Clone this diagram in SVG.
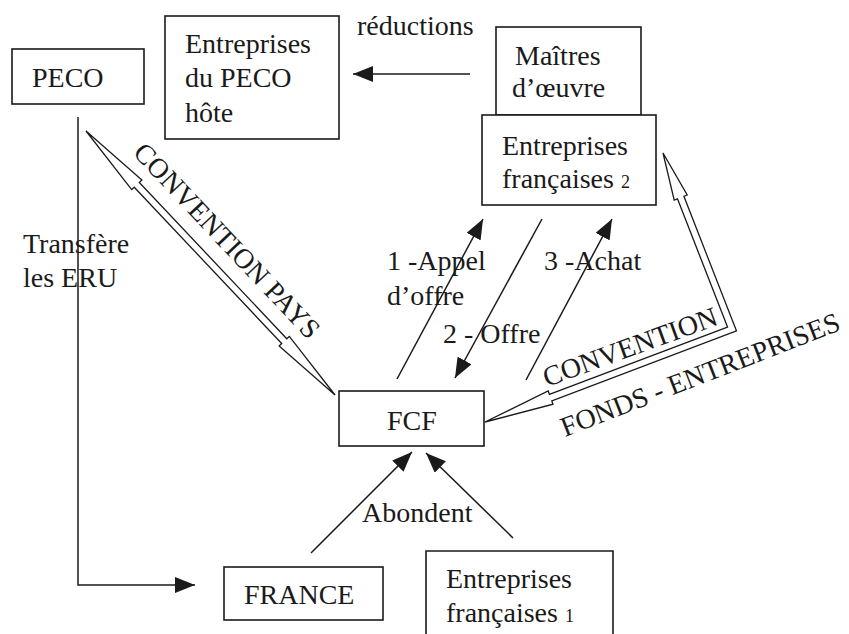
<svg xmlns="http://www.w3.org/2000/svg" width="849" height="634" viewBox="0 0 849 634" font-family="'Liberation Serif', 'DejaVu Serif', serif">
<style>
text{font-family:'Liberation Serif','DejaVu Serif',serif;font-size:28px;fill:#1a1a1a}
.box{fill:#fff;stroke:#1a1a1a;stroke-width:1.6}
.ln{fill:none;stroke:#1a1a1a;stroke-width:1.5}
.ah{marker-end:url(#arr)}
.hollow{fill:#fff;stroke:#1a1a1a;stroke-width:1.3;stroke-linejoin:miter}
.sm{font-size:18px}
</style>
<defs>
<marker id="arr" markerUnits="userSpaceOnUse" viewBox="0 0 20 16" refX="20" refY="8" markerWidth="20" markerHeight="16" orient="auto">
<path d="M0,0 L20,8 L0,16 z" fill="#1a1a1a"/>
</marker>
</defs>
<rect width="849" height="634" fill="#fff"/>

<g id="connectors">
<line class="ln ah" x1="470" y1="74" x2="353" y2="74"/>
<polyline class="ln ah" points="78,117 78,585 195,585"/>
<line class="ln ah" x1="397" y1="379" x2="483" y2="219"/>
<line class="ln ah" x1="542" y1="219" x2="455" y2="378"/>
<line class="ln ah" x1="526" y1="380" x2="612" y2="219"/>
<line class="ln ah" x1="311" y1="553" x2="412" y2="452"/>
<line class="ln ah" x1="513" y1="538" x2="426" y2="453"/>
<g transform="translate(86,131) rotate(46.67)">
<polygon class="hollow" points="0,0 74,-7 74,-3.5 288.9,-3.5 288.9,-7 362.9,0 288.9,7 288.9,3.5 74,3.5 74,7"/>
<text x="48" y="-18">CONVENTION PAYS</text>
</g>
<path d="M550.6,397.6 L732,329 L680.7,197.6" fill="none" stroke="#1a1a1a" stroke-width="8.2" stroke-linejoin="miter"/>
<polygon class="hollow" points="485,422 548.2,391 553,404.2"/>
<polygon class="hollow" points="663,153 687.2,195 674.2,200.2"/>
<path d="M548.7,398.3 L732,329 L680,195.7" fill="none" stroke="#fff" stroke-width="5.6" stroke-linejoin="miter"/>
<text transform="translate(547,387) rotate(-20)">CONVENTION</text>
<text transform="translate(565,437) rotate(-21.2)">FONDS - ENTREPRISES</text>
<text x="357" y="35">réductions</text>
<text x="23" y="253">Transfère</text>
<text x="23" y="287">les ERU</text>
<text x="387" y="270">1 -Appel</text>
<text x="387" y="305">d’offre</text>
<text x="544" y="270">3 -Achat</text>
<text x="443" y="343">2 - Offre</text>
<text x="362" y="522">Abondent</text>
</g>

<g id="peco">
<rect class="box" x="12" y="49" width="132" height="55"/>
<text x="32" y="87">PECO</text>
</g>
<g id="entreprises-peco">
<rect class="box" x="165" y="16" width="174" height="123"/>
<text x="185" y="53">Entreprises</text>
<text x="185" y="87">du PECO</text>
<text x="185" y="122">hôte</text>
</g>
<g id="maitres">
<rect class="box" x="496" y="27" width="145" height="88"/>
<text x="515" y="65">Maîtres</text>
<text x="512" y="97">d’œuvre</text>
</g>
<g id="entreprises-fr2">
<rect class="box" x="482" y="115" width="174" height="90"/>
<text x="502" y="155">Entreprises</text>
<text x="502" y="188">françaises <tspan class="sm">2</tspan></text>
</g>
<g id="fcf">
<rect class="box" x="339" y="391" width="145" height="55"/>
<text x="387" y="430">FCF</text>
</g>
<g id="france">
<rect class="box" x="224" y="567" width="159" height="53"/>
<text x="244" y="604">FRANCE</text>
</g>
<g id="entreprises-fr1">
<path class="box" d="M426,640 L426,551 L613,551 L613,640"/>
<text x="446" y="588">Entreprises</text>
<text x="446" y="622">françaises <tspan class="sm">1</tspan></text>
</g>
</svg>
